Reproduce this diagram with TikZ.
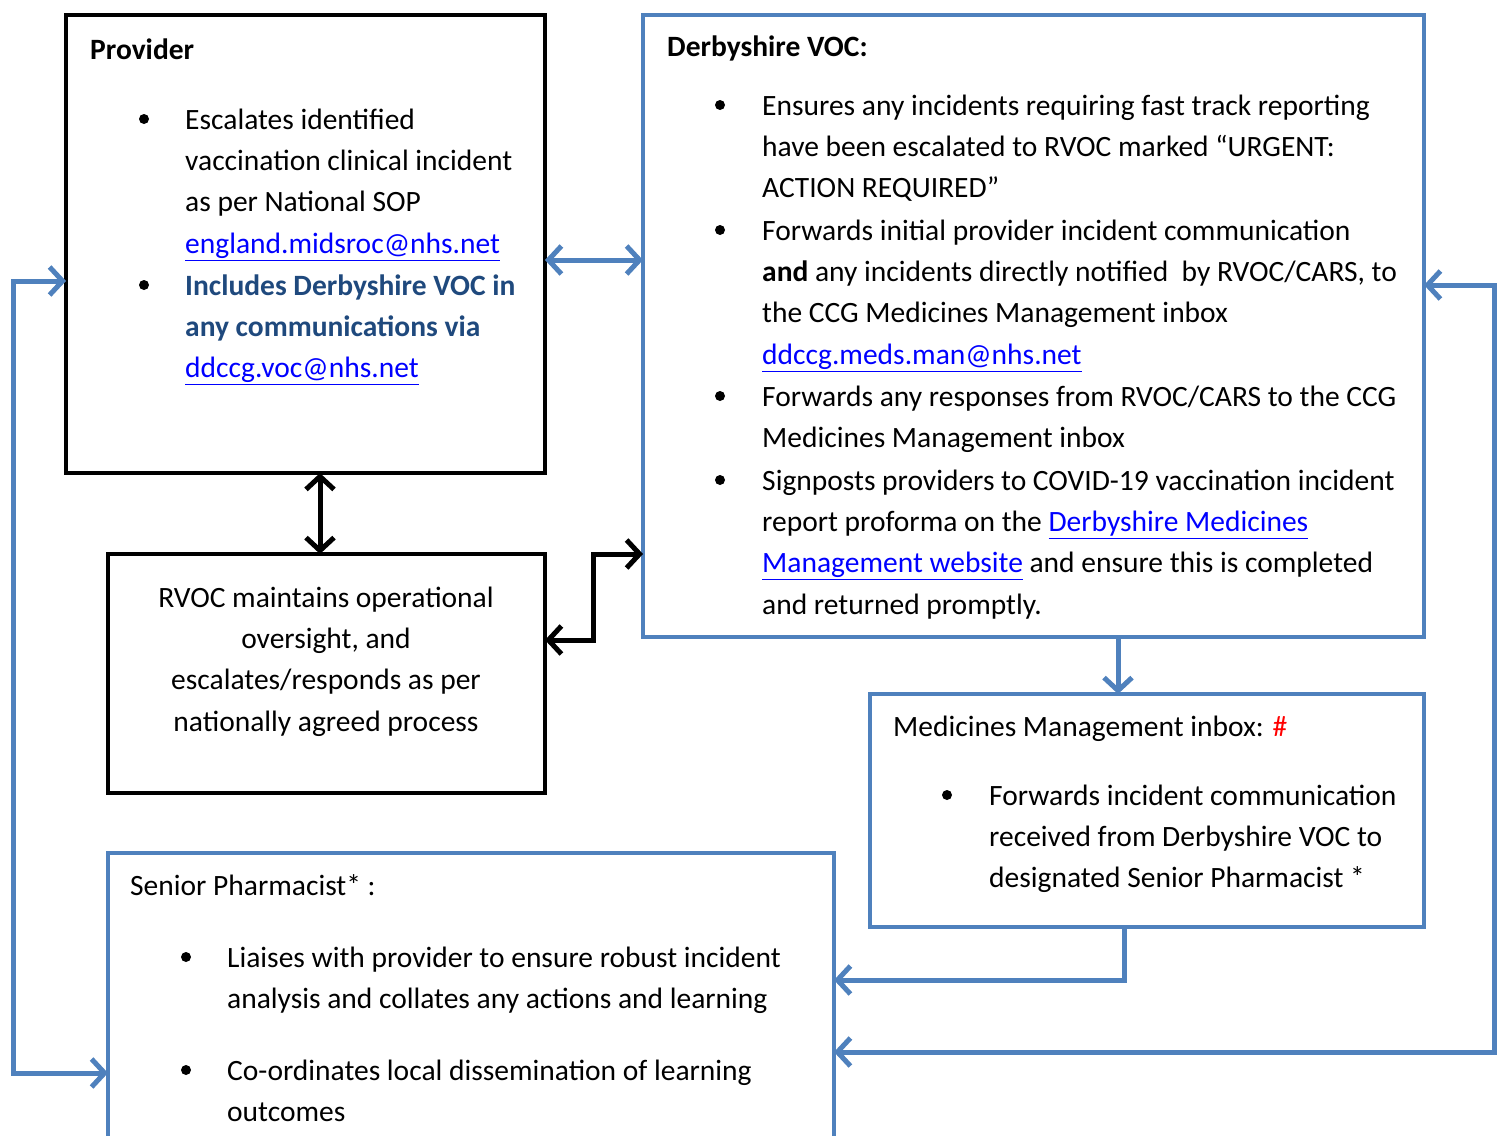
\documentclass[tikz,border=0pt]{standalone}
\usepackage{fontspec}
\setmainfont{Carlito}
\usepackage{tikz}
\usetikzlibrary{arrows.meta,positioning,calc}
\definecolor{vocblue}{RGB}{79,129,189}
\definecolor{navytext}{RGB}{31,73,125}
\definecolor{linkblue}{RGB}{0,0,255}
\newcommand\bodyfont{\fontsize{29.5}{41.4}\selectfont}
\newcommand\lnk[1]{{\color{linkblue}\underline{#1}}}
\tikzset{
  >={Straight Barb[length=13pt,width=28pt]},
  bluebox/.style={draw=vocblue, line width=4pt, anchor=north west, inner sep=0pt, outer sep=0pt},
  blackbox/.style={draw=black, line width=4pt, anchor=north west, inner sep=0pt, outer sep=0pt},
  blueline/.style={draw=vocblue, line width=5pt},
  blackline/.style={draw=black, line width=5pt, <->},
  itemtext/.style={anchor=north west, inner sep=0pt, align=left, font=\bodyfont, yshift=19pt},
  titletext/.style={anchor=base west, inner sep=0pt, font=\bodyfont},
  dot/.style={circle, fill=black, inner sep=0pt, minimum size=10pt}
}

\begin{document}
\begin{tikzpicture}[x=1pt,y=-1pt]
  \useasboundingbox (0,0) rectangle (1504,1135);

  % Boxes
  \node[blackbox, minimum width=479pt, minimum height=458pt] (provider) at (66,15) {};
  \node[bluebox, minimum width=781pt, minimum height=622pt] (voc) at (643,15) {};
  \node[blackbox, minimum width=437pt, minimum height=239pt] (rvoc) at (108,554) {};
  \node[bluebox, minimum width=554pt, minimum height=233pt] (mminbox) at (870,694) {};
  \node[bluebox, minimum width=726pt, minimum height=320pt] (senior) at (108,853) {};

  % Provider text
  \node[titletext, font=\bodyfont\bfseries] (provtitle) at (90,59) {Provider};
  \node[dot] (provdotA) at (144,119) {};
  \node[itemtext] (provitemA) at (185,119) {\strut Escalates identified\\vaccination clinical incident\\as per National SOP\\\lnk{england.midsroc@nhs.net}};
  \node[dot] (provdotB) at (144,285) {};
  \node[itemtext] (provitemB) at (185,285) {\strut\textbf{\color{navytext}Includes Derbyshire VOC in}\\\textbf{\color{navytext}any communications via}\\\lnk{ddccg.voc@nhs.net}};

  % Derbyshire VOC text
  \node[titletext, font=\bodyfont\bfseries] (voctitle) at (667,56) {Derbyshire VOC:};
  \node[dot] (vocdotA) at (720,105) {};
  \node[itemtext] (vocitemA) at (762,105) {\strut Ensures any incidents requiring fast track reporting\\have been escalated to RVOC marked “URGENT:\\ACTION REQUIRED”};
  \node[dot] (vocdotB) at (720,230) {};
  \node[itemtext] (vocitemB) at (762,230) {\strut Forwards initial provider incident communication\\\textbf{and} any incidents directly notified\ \ by RVOC/CARS, to\\the CCG Medicines Management inbox\\\lnk{ddccg.meds.man@nhs.net}};
  \node[dot] (vocdotC) at (720,396) {};
  \node[itemtext] (vocitemC) at (762,396) {\strut Forwards any responses from RVOC/CARS to the CCG\\Medicines Management inbox};
  \node[dot] (vocdotD) at (720,480) {};
  \node[itemtext] (vocitemD) at (762,480) {\strut Signposts providers to COVID-19 vaccination incident\\report proforma on the \lnk{Derbyshire Medicines}\\\lnk{Management website} and ensure this is completed\\and returned promptly.};

  % RVOC text
  \node[itemtext, anchor=north, align=center] (rvoctext) at (326,597)
    {\strut RVOC maintains operational\\oversight, and\\escalates/responds as per\\nationally agreed process};

  % Medicines Management inbox text
  \node[titletext] (mmtitle) at (893,736) {Medicines Management inbox: {\color{red}\#}};
  \node[dot] (mmdot) at (947,795) {};
  \node[itemtext] (mmitem) at (989,795) {\strut Forwards incident communication\\received from Derbyshire VOC to\\designated Senior Pharmacist *};

  % Senior Pharmacist text
  \node[titletext] (sptitle) at (130,895) {Senior Pharmacist* :};
  \node[dot] (spdotA) at (186,957) {};
  \node[itemtext] (spitemA) at (227,957) {\strut Liaises with provider to ensure robust incident\\analysis and collates any actions and learning};
  \node[dot] (spdotB) at (186,1070) {};
  \node[itemtext] (spitemB) at (227,1070) {\strut Co-ordinates local dissemination of learning\\outcomes};

  % Connector levels and bends
  \coordinate (lvlpv) at (0,260);
  \coordinate (lvlrv) at (0,554);
  \coordinate (rvbend) at (593,640);
  \coordinate (pvrvx) at (320,0);
  \coordinate (vocmmx) at (1118,0);
  \coordinate (mmspbend) at (1124,980);
  \coordinate (lvlright) at (0,285);
  \coordinate (rtbend) at (1494,1052);
  \coordinate (lvlleft) at (0,281);
  \coordinate (lfbend) at (13,1073);

  % Connectors
  \draw[blueline, <->] (provider.east |- lvlpv) -- (voc.west |- lvlpv);
  \draw[blackline] (provider.south -| pvrvx) -- (rvoc.north -| pvrvx);
  \draw[blackline] (rvoc.east |- rvbend) -- (rvbend) |- (voc.west |- lvlrv);
  \draw[blueline, ->] (voc.south -| vocmmx) -- (mminbox.north -| vocmmx);
  \draw[blueline, ->] (mminbox.south -| mmspbend) -- (mmspbend) -- (senior.east |- mmspbend);
  \draw[blueline, <->] (voc.east |- lvlright) -| (rtbend) -- (senior.east |- rtbend);
  \draw[blueline, <->] (provider.west |- lvlleft) -| (lfbend) -- (senior.west |- lfbend);
\end{tikzpicture}
\end{document}
